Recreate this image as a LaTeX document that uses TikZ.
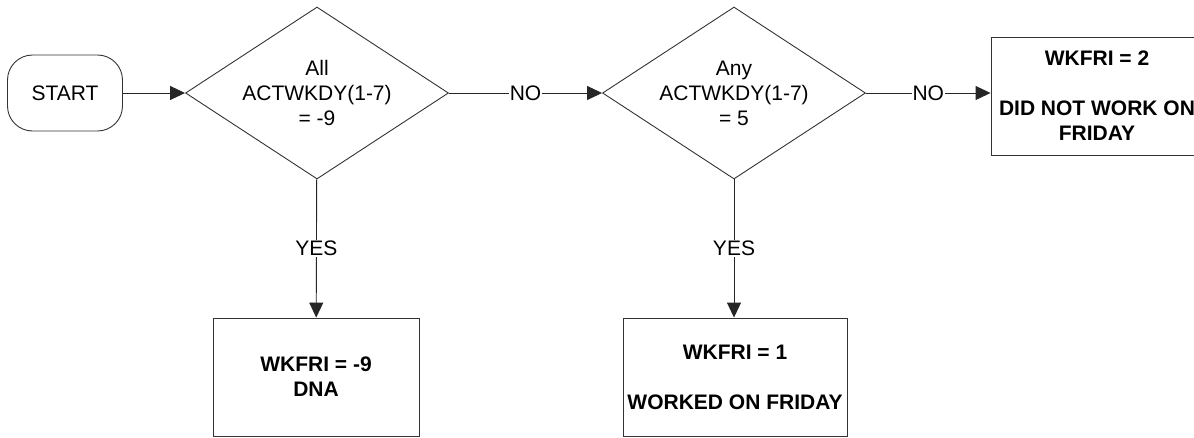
\documentclass[tikz,border=0pt]{standalone}
\usepackage{fontspec}
\setmainfont{Liberation Sans}
\usetikzlibrary{shapes.geometric,arrows.meta}
\begin{document}
\begin{tikzpicture}[x=1pt,y=-1pt,
  every node/.style={font=\fontsize{21}{25}\selectfont},
  startbox/.style={draw=black!80,line width=0.9pt,rounded corners=25pt,minimum width=115pt,minimum height=76pt,inner sep=0pt},
  decision/.style={draw=black!80,line width=0.9pt,diamond,aspect=1.53,minimum width=263pt,minimum height=172pt,inner sep=0pt,align=center},
  result/.style={draw=black!80,line width=0.9pt,minimum width=212pt,minimum height=118pt,inner sep=0pt,align=center,font=\fontsize{21}{25}\selectfont\bfseries},
  conn/.style={draw=black!85,line width=0.9pt,-{Triangle[length=15pt,width=14pt]}},
  lbl/.style={fill=white,inner sep=1pt}]
\useasboundingbox (0,0) rectangle (1194,437);
\node[startbox] (start) at (65,93) {START};
\node[decision] (d1) at (317,93) {All\\ACTWKDY(1-7)\\= -9};
\node[decision] (d2) at (734,93) {Any\\ACTWKDY(1-7)\\= 5};
\node[result,minimum width=206pt] (r1) at (316,377) {WKFRI = -9\\DNA};
\node[result,minimum width=224pt] (r2) at (735,377) {WKFRI = 1\\[25pt]WORKED ON FRIDAY};
\node[result] (r3) at (1097,96) {WKFRI = 2\\[25pt]DID NOT WORK ON\\FRIDAY};
\draw[conn] (start) -- (d1);
\draw[conn] (d1) -- node[lbl] {NO} (d2);
\draw[conn] (d2.east) -- node[lbl] {NO} (d2.east -| r3.west);
\draw[conn] (d1) -- node[lbl] {YES} (r1);
\draw[conn] (d2) -- node[lbl] {YES} (d2 |- r2.north);
\end{tikzpicture}
\end{document}
